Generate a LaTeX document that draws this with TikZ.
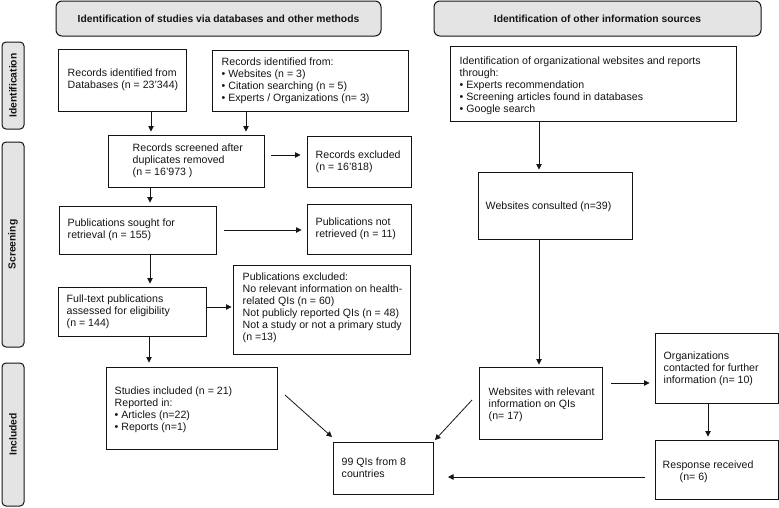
\documentclass[tikz,border=0pt]{standalone}
\usepackage{fontspec}
\setmainfont{Liberation Sans}
\usetikzlibrary{arrows.meta}
\definecolor{hdrfill}{RGB}{228,228,228}
\definecolor{ink}{RGB}{20,20,20}
\tikzset{
  box/.style={draw=ink, line width=0.95pt, inner sep=0pt},
  txt/.style={inner sep=0pt, align=left, text=ink, font=\fontsize{10.6}{12}\selectfont},
  hdr/.style={draw=ink, fill=hdrfill, line width=1pt, rounded corners=6pt, inner sep=0pt,
              text=ink, font=\bfseries\fontsize{10.3}{12}\selectfont},
  side/.style={draw=ink, fill=hdrfill, line width=1pt, rounded corners=4pt, inner sep=0pt,
               rotate=90, minimum height=22pt, text=ink, font=\bfseries\fontsize{10.3}{12}\selectfont},
  arr/.style={draw=ink, line width=0.8pt, -{Triangle[length=5.5pt,width=5.5pt]}}
}
\begin{document}
\begin{tikzpicture}[x=1pt,y=-1pt]
\useasboundingbox (0,0) rectangle (779,507);

% headers
\node[hdr, minimum width=325pt, minimum height=35pt] (h1) at (218.5,18.5) {Identification of studies via databases and other methods};
\node[hdr, minimum width=327pt, minimum height=35pt] (h2) at (597.5,18.5) {Identification of other information sources};

% side labels
\node[side, minimum width=87pt] (s1) at (13,85.5) {Identification};
\node[side, minimum width=205pt] (s2) at (13,244.5) {Screening};
\node[side, minimum width=143pt] (s3) at (13,434.5) {Included};

% boxes
\node[box, minimum width=128pt, minimum height=62pt] (db) at (122,80) {};
\node[box, minimum width=196pt, minimum height=61pt] (oth) at (310,80.5) {};
\node[box, minimum width=156pt, minimum height=52pt] (scr) at (186,161) {};
\node[box, minimum width=104pt, minimum height=51pt] (exc) at (359,161.5) {};
\node[box, minimum width=157pt, minimum height=48pt] (sou) at (137.5,230) {};
\node[box, minimum width=104pt, minimum height=50pt] (nr) at (359,229) {};
\node[box, minimum width=148pt, minimum height=49pt] (ful) at (132,311.5) {};
\node[box, minimum width=177pt, minimum height=89pt] (ex2) at (321.5,309.5) {};
\node[box, minimum width=171pt, minimum height=82pt] (inc) at (191.5,408) {};
\node[box, minimum width=100pt, minimum height=52pt] (qis) at (383,468) {};
\node[box, minimum width=286pt, minimum height=75pt] (rid) at (593,83.5) {};
\node[box, minimum width=154pt, minimum height=67pt] (wc) at (555,205.5) {};
\node[box, minimum width=123pt, minimum height=72pt] (rel) at (540.5,403) {};
\node[box, minimum width=123pt, minimum height=70pt] (org) at (716.5,368) {};
\node[box, minimum width=123pt, minimum height=59pt] (res) at (716.5,469.5) {};

% texts
\node[txt, anchor=west] (db-t) at ([xshift=10pt]db.west) {Records identified from\\Databases (n = 23’344)};
\node[txt, anchor=west] (oth-t) at ([xshift=10pt]oth.west) {Records identified from:\\• Websites (n = 3)\\• Citation searching (n = 5)\\• Experts / Organizations (n= 3)};
\node[txt, anchor=west] (scr-t) at ([xshift=25pt]scr.west) {Records screened after\\duplicates removed\\(n = 16’973 )};
\node[txt, anchor=west] (exc-t) at ([xshift=9pt]exc.west) {Records excluded\\(n = 16’818)};
\node[txt, anchor=west] (sou-t) at ([xshift=9pt]sou.west) {Publications sought for\\retrieval (n = 155)};
\node[txt, anchor=west] (nr-t) at ([xshift=9pt]nr.west) {Publications not\\retrieved (n = 11)};
\node[txt, anchor=west] (ful-t) at ([xshift=9pt]ful.west) {Full-text publications\\assessed for eligibility\\(n = 144)};
\node[txt, anchor=west] (ex2-t) at ([xshift=10pt,yshift=2pt]ex2.west) {Publications excluded:\\No relevant information on health-\\related QIs (n = 60)\\Not publicly reported QIs (n = 48)\\Not a study or not a primary study\\(n =13)};
\node[txt, anchor=west] (inc-t) at ([xshift=9pt,yshift=-2pt]inc.west) {Studies included (n = 21)\\Reported in:\\• Articles (n=22)\\• Reports (n=1)};
\node[txt, anchor=west] (qis-t) at ([xshift=9pt]qis.west) {99 QIs from 8\\countries};
\node[txt, anchor=west] (rid-t) at ([xshift=10pt,yshift=-2pt]rid.west) {Identification of organizational websites and reports\\through:\\• Experts recommendation\\• Screening articles found in databases\\• Google search};
\node[txt, anchor=west] (wc-t) at ([xshift=8pt,yshift=-1pt]wc.west) {Websites consulted (n=39)};
\node[txt, anchor=west] (rel-t) at ([xshift=10pt,yshift=-2pt]rel.west) {Websites with relevant\\information on QIs\\(n= 17)};
\node[txt, anchor=west] (org-t) at ([xshift=9pt,yshift=-1pt]org.west) {Organizations\\contacted for further\\information (n= 10)};
\node[txt, anchor=west] (res-t) at ([xshift=8pt,yshift=-2pt]res.west) {Response received\\\hspace*{17pt}(n= 6)};

% free-end coordinates
\coordinate (a1) at (151,0);
\coordinate (a2) at (246,0);
\coordinate (p3) at (271,155);
\coordinate (a4) at (150,0);
\coordinate (p5) at (224,230);
\coordinate (p7) at (207,307);
\coordinate (a8) at (149,0);
\coordinate (p9) at (285,395);
\coordinate (q9) at (332,437);
\coordinate (p10) at (472,400);
\coordinate (q10) at (435,440);
\coordinate (p11) at (645,477);
\coordinate (q11) at (448,477);
\coordinate (p12) at (611,383);
\coordinate (a13) at (708,0);
\coordinate (a14) at (539,0);

% connectors
\draw[arr, shorten >=3pt] (a1 |- db.south) -- (a1 |- scr.north);
\draw[arr, shorten >=3pt] (a2 |- oth.south) -- (a2 |- scr.north);
\draw[arr, shorten >=6pt] (p3) -- (p3 -| exc.west);
\draw[arr, shorten >=3pt] (a4 |- scr.south) -- (a4 |- sou.north);
\draw[arr, shorten >=5pt] (p5) -- (p5 -| nr.west);
\draw[arr, shorten >=3pt] (a4 |- sou.south) -- (a4 |- ful.north);
\draw[arr, shorten >=1pt] (p7) -- (p7 -| ex2.west);
\draw[arr, shorten >=4pt] (a8 |- ful.south) -- (a8 |- inc.north);
\draw[arr] (p9) -- (q9);
\draw[arr] (p10) -- (q10);
\draw[arr] (p11) -- (q11);
\draw[arr, shorten >=5pt] (p12) -- (p12 -| org.west);
\draw[arr, shorten >=3pt] (a13 |- org.south) -- (a13 |- res.north);
\draw[arr, shorten >=2pt] (a14 |- rid.south) -- (a14 |- wc.north);
\draw[arr, shorten >=2pt] (a14 |- wc.south) -- (a14 |- rel.north);
\end{tikzpicture}
\end{document}
